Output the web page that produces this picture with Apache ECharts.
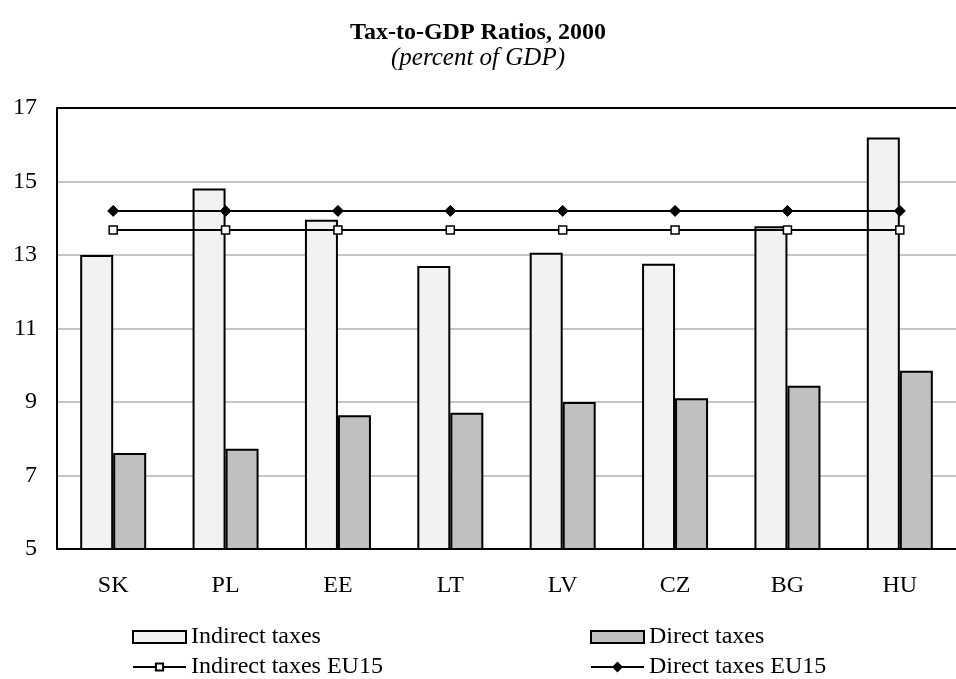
<!DOCTYPE html>
<html>
<head>
<meta charset="utf-8">
<script src="https://cdn.jsdelivr.net/npm/echarts@6/dist/echarts.min.js"></script>
<style>
  html, body { margin: 0; padding: 0; background: #fff; }
  #main { width: 956px; height: 679px; }
</style>
</head>
<body>
<div id="main"></div>
<script>
var countries = ['SK', 'PL', 'EE', 'LT', 'LV', 'CZ', 'BG', 'HU'];
var indirectTaxes = [13.00, 14.81, 13.96, 12.70, 13.06, 12.76, 13.78, 16.20];
var directTaxes = [7.61, 7.73, 8.64, 8.71, 9.00, 9.10, 9.44, 9.85];
var indirectEU15 = [13.68, 13.68, 13.68, 13.68, 13.68, 13.68, 13.68, 13.68];
var directEU15 = [14.20, 14.20, 14.20, 14.20, 14.20, 14.20, 14.20, 14.20];
var yTicks = [5, 7, 9, 11, 13, 15, 17];

var font = 'Liberation Serif';
var myChart = echarts.init(document.getElementById('main'));

// one legend per item so they sit in two columns like the original
function legendItem(name, left, top, icon, h) {
    var l = {
        left: left,
        top: top,
        itemWidth: 53,
        itemHeight: h,
        itemGap: 0,
        textStyle: { fontFamily: font, fontSize: 24, color: '#000' },
        data: [{ name: name }]
    };
    if (icon) l.data[0].icon = icon;
    return l;
}

var option = {
    backgroundColor: '#fff',
    animation: false,
    title: {
        text: 'Tax-to-GDP Ratios, 2000',
        subtext: '(percent of GDP)',
        left: 'center',
        top: 16,
        itemGap: 1,
        textStyle: { fontFamily: font, fontSize: 24, fontWeight: 'bold', color: '#000' },
        subtextStyle: { fontFamily: font, fontSize: 25, fontStyle: 'italic', color: '#000' }
    },
    legend: [
        legendItem('Indirect taxes', 127, 620, 'rect', 12),
        legendItem('Indirect taxes EU15', 127, 650, null, 9),
        legendItem('Direct taxes', 585, 620, 'rect', 12),
        legendItem('Direct taxes EU15', 585, 650, null, 10)
    ],
    grid: {
        left: 57,
        top: 108,
        width: 911,
        height: 441
    },
    xAxis: [
        {
            type: 'category',
            data: countries,
            axisLine: { lineStyle: { color: '#000', width: 2 } },
            axisTick: { show: false },
            axisLabel: { fontFamily: font, fontSize: 24, color: '#000', margin: 25 }
        },
        {
            type: 'category',
            position: 'top',
            data: countries,
            axisLine: { lineStyle: { color: '#000', width: 2 } },
            axisTick: { show: false },
            axisLabel: { show: false }
        }
    ],
    yAxis: {
        type: 'value',
        min: yTicks[0],
        max: yTicks[yTicks.length - 1],
        interval: 2,
        axisLine: { show: true, lineStyle: { color: '#000', width: 2 } },
        axisTick: { show: false },
        axisLabel: { fontFamily: font, fontSize: 24, color: '#000', margin: 20 },
        splitLine: { lineStyle: { color: '#c6c6c6', width: 2 } }
    },
    series: [
        {
            name: 'Indirect taxes',
            type: 'bar',
            barWidth: 33,
            barGap: '0%',
            itemStyle: { color: '#f2f2f2', borderColor: '#000', borderWidth: 2 },
            data: indirectTaxes
        },
        {
            name: 'Direct taxes',
            type: 'bar',
            barWidth: 33,
            barGap: '0%',
            itemStyle: { color: '#c0c0c0', borderColor: '#000', borderWidth: 2 },
            data: directTaxes
        },
        {
            name: 'Indirect taxes EU15',
            type: 'line',
            symbol: 'rect',
            symbolSize: 8,
            lineStyle: { color: '#000', width: 2 },
            itemStyle: { color: '#fff', borderColor: '#000', borderWidth: 1.5 },
            data: indirectEU15
        },
        {
            name: 'Direct taxes EU15',
            type: 'line',
            symbol: 'diamond',
            symbolSize: 11,
            lineStyle: { color: '#000', width: 2 },
            itemStyle: { color: '#000', borderColor: '#000', borderWidth: 1 },
            data: directEU15
        }
    ]
};

myChart.setOption(option);
</script>
</body>
</html>
